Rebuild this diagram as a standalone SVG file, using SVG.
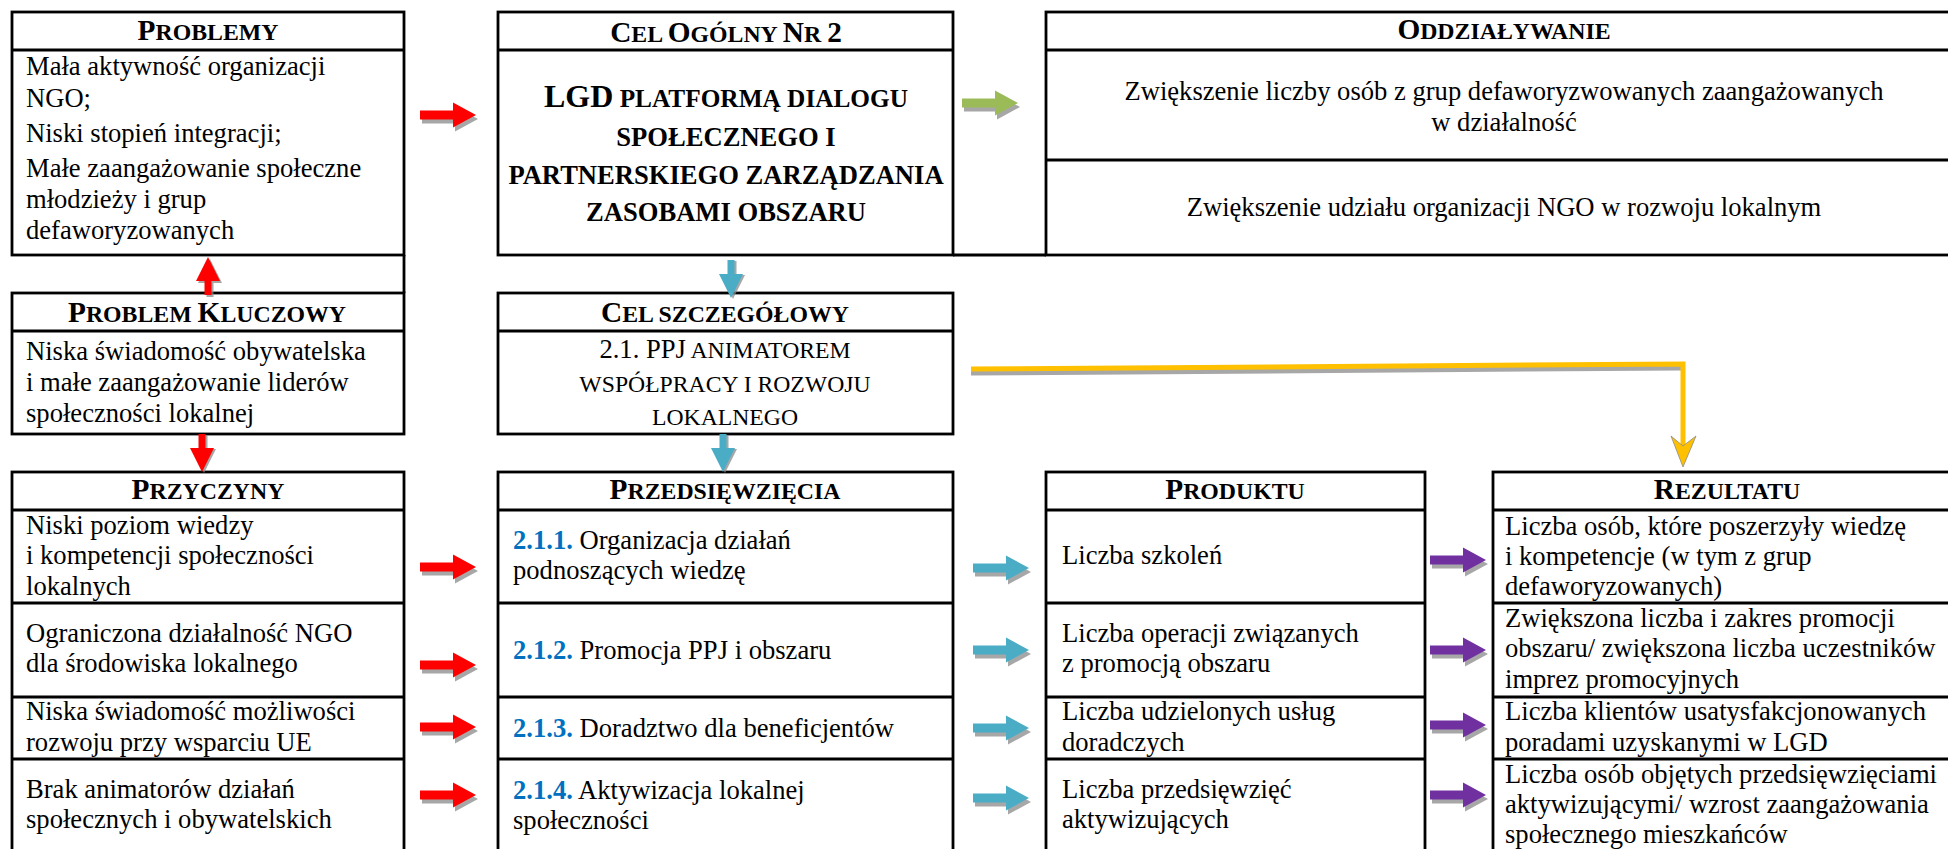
<svg xmlns="http://www.w3.org/2000/svg" width="1948" height="849" viewBox="0 0 1948 849">
<defs>
<style>
.t{font-family:"Liberation Serif","Times New Roman",serif;font-size:26.6px;fill:#000}
.c{text-anchor:middle}
.h{font-weight:bold;font-size:29.3px}
.s{font-size:23.8px}
.n{fill:#0070C0;font-weight:bold}
.bd{font-weight:bold}
.b{fill:#fff;stroke:#000;stroke-width:2.8}
.ln{stroke:#000;stroke-width:2.8;fill:none}
.sh{fill:#8a8a8a;opacity:0.75}
</style>
<path id="ha" d="M0,-4.5 H33 V-12.5 L56,0 L33,12.5 V4.5 H0 Z"/>
<path id="da" d="M-3.5,0 V14 H-12 L0,38 L12,14 H3.5 V0 Z"/>
</defs>
<rect width="1948" height="849" fill="#fff"/>

<g id="problemy">
<rect class="b" x="12" y="12" width="392" height="243"/>
<line class="ln" x1="12" y1="50" x2="404" y2="50"/>
<line class="ln" x1="404" y1="255" x2="404" y2="293"/>
<text class="t h c" x="208" y="40">P<tspan class="s">ROBLEMY</tspan></text>
<text class="t" x="26" y="75">Mała aktywność organizacji</text>
<text class="t" x="26" y="107">NGO;</text>
<text class="t" x="26" y="142">Niski stopień integracji;</text>
<text class="t" x="26" y="177">Małe zaangażowanie społeczne</text>
<text class="t" x="26" y="208">młodzieży i grup</text>
<text class="t" x="26" y="239">defaworyzowanych</text>
</g>

<g id="problem-kluczowy">
<rect class="b" x="12" y="293" width="392" height="141"/>
<line class="ln" x1="12" y1="331" x2="404" y2="331"/>
<text class="t h c" x="207" y="322">P<tspan class="s">ROBLEM </tspan>K<tspan class="s">LUCZOWY</tspan></text>
<text class="t" x="26" y="360">Niska świadomość obywatelska</text>
<text class="t" x="26" y="391">i małe zaangażowanie liderów</text>
<text class="t" x="26" y="422">społeczności lokalnej</text>
</g>

<g id="przyczyny">
<rect class="b" x="12" y="472" width="392" height="400"/>
<line class="ln" x1="12" y1="510" x2="404" y2="510"/>
<line class="ln" x1="12" y1="603" x2="404" y2="603"/>
<line class="ln" x1="12" y1="697" x2="404" y2="697"/>
<line class="ln" x1="12" y1="759" x2="404" y2="759"/>
<text class="t h c" x="208" y="499">P<tspan class="s">RZYCZYNY</tspan></text>
<text class="t" x="26" y="534">Niski poziom wiedzy</text>
<text class="t" x="26" y="564">i kompetencji społeczności</text>
<text class="t" x="26" y="595">lokalnych</text>
<text class="t" x="26" y="642">Ograniczona działalność NGO</text>
<text class="t" x="26" y="672">dla środowiska lokalnego</text>
<text class="t" x="26" y="720">Niska świadomość możliwości</text>
<text class="t" x="26" y="751">rozwoju przy wsparciu UE</text>
<text class="t" x="26" y="798">Brak animatorów działań</text>
<text class="t" x="26" y="828">społecznych i obywatelskich</text>
</g>

<g id="cel-ogolny">
<rect class="b" x="498" y="12" width="455" height="243"/>
<line class="ln" x1="498" y1="50" x2="953" y2="50"/>
<line class="ln" x1="953" y1="255" x2="1046" y2="255"/>
<text class="t h c" x="726" y="42">C<tspan class="s">EL </tspan>O<tspan class="s">GÓLNY </tspan>N<tspan class="s">R </tspan>2</text>
<text class="t c bd" x="726" y="107"><tspan font-size="32px">LGD</tspan><tspan font-size="25.3px"> PLATFORMĄ DIALOGU</tspan></text>
<text class="t c bd" x="726" y="146">SPOŁECZNEGO I</text>
<text class="t c bd" x="726" y="184">PARTNERSKIEGO ZARZĄDZANIA</text>
<text class="t c bd" x="726" y="221">ZASOBAMI OBSZARU</text>
</g>

<g id="cel-szczegolowy">
<rect class="b" x="498" y="293" width="455" height="141"/>
<line class="ln" x1="498" y1="331" x2="953" y2="331"/>
<text class="t h c" x="725" y="322">C<tspan class="s">EL SZCZEGÓŁOWY</tspan></text>
<text class="t c" x="725" y="358">2.1. PPJ<tspan font-size="23.7px"> ANIMATOREM</tspan></text>
<text class="t c" x="725" y="392" style="font-size:23.7px">WSPÓŁPRACY I ROZWOJU</text>
<text class="t c" x="725" y="425" style="font-size:23.7px">LOKALNEGO</text>
</g>

<g id="przedsiewziecia">
<rect class="b" x="498" y="472" width="455" height="400"/>
<line class="ln" x1="498" y1="510" x2="953" y2="510"/>
<line class="ln" x1="498" y1="603" x2="953" y2="603"/>
<line class="ln" x1="498" y1="697" x2="953" y2="697"/>
<line class="ln" x1="498" y1="759" x2="953" y2="759"/>
<text class="t h c" x="725" y="499">P<tspan class="s">RZEDSIĘWZIĘCIA</tspan></text>
<text class="t" x="513" y="549"><tspan class="n">2.1.1.</tspan> Organizacja działań</text>
<text class="t" x="513" y="579">podnoszących wiedzę</text>
<text class="t" x="513" y="659"><tspan class="n">2.1.2.</tspan> Promocja PPJ i obszaru</text>
<text class="t" x="513" y="737"><tspan class="n">2.1.3.</tspan> Doradztwo dla beneficjentów</text>
<text class="t" x="513" y="799"><tspan class="n">2.1.4.</tspan> Aktywizacja lokalnej</text>
<text class="t" x="513" y="829">społeczności</text>
</g>

<g id="oddzialywanie">
<rect class="b" x="1046" y="12" width="920" height="243"/>
<line class="ln" x1="1046" y1="50" x2="1966" y2="50"/>
<line class="ln" x1="1046" y1="160" x2="1966" y2="160"/>
<text class="t h c" x="1504" y="39">O<tspan class="s">DDZIAŁYWANIE</tspan></text>
<text class="t c" x="1504" y="100">Zwiększenie liczby osób z grup defaworyzwowanych zaangażowanych</text>
<text class="t c" x="1504" y="131">w działalność</text>
<text class="t c" x="1504" y="216">Zwiększenie udziału organizacji NGO w rozwoju lokalnym</text>
</g>

<g id="produktu">
<rect class="b" x="1046" y="472" width="379" height="400"/>
<line class="ln" x1="1046" y1="510" x2="1425" y2="510"/>
<line class="ln" x1="1046" y1="603" x2="1425" y2="603"/>
<line class="ln" x1="1046" y1="697" x2="1425" y2="697"/>
<line class="ln" x1="1046" y1="759" x2="1425" y2="759"/>
<text class="t h c" x="1235" y="499">P<tspan class="s">RODUKTU</tspan></text>
<text class="t" x="1062" y="564">Liczba szkoleń</text>
<text class="t" x="1062" y="642">Liczba operacji związanych</text>
<text class="t" x="1062" y="672">z promocją obszaru</text>
<text class="t" x="1062" y="720">Liczba udzielonych usług</text>
<text class="t" x="1062" y="751">doradczych</text>
<text class="t" x="1062" y="798">Liczba przedsięwzięć</text>
<text class="t" x="1062" y="828">aktywizujących</text>
</g>

<g id="rezultatu">
<rect class="b" x="1493" y="472" width="473" height="400"/>
<line class="ln" x1="1493" y1="510" x2="1966" y2="510"/>
<line class="ln" x1="1493" y1="603" x2="1966" y2="603"/>
<line class="ln" x1="1493" y1="697" x2="1966" y2="697"/>
<line class="ln" x1="1493" y1="759" x2="1966" y2="759"/>
<text class="t h c" x="1727" y="499">R<tspan class="s">EZULTATU</tspan></text>
<text class="t" x="1505" y="535">Liczba osób, które poszerzyły wiedzę</text>
<text class="t" x="1505" y="565">i kompetencje (w tym z grup</text>
<text class="t" x="1505" y="595">defaworyzowanych)</text>
<text class="t" x="1505" y="627">Zwiększona liczba i zakres promocji</text>
<text class="t" x="1505" y="657">obszaru/ zwiększona liczba uczestników</text>
<text class="t" x="1505" y="688">imprez promocyjnych</text>
<text class="t" x="1505" y="720">Liczba klientów usatysfakcjonowanych</text>
<text class="t" x="1505" y="751">poradami uzyskanymi w LGD</text>
<text class="t" x="1505" y="783">Liczba osób objętych przedsięwzięciami</text>
<text class="t" x="1505" y="813">aktywizującymi/ wzrost zaangażowania</text>
<text class="t" x="1505" y="843">społecznego mieszkańców</text>
</g>

<g id="connectors">
<g transform="translate(420,115)"><use href="#ha" class="sh" x="2" y="4"/><use href="#ha" fill="#FF0000"/></g>
<g transform="translate(420,567)"><use href="#ha" class="sh" x="2" y="4"/><use href="#ha" fill="#FF0000"/></g>
<g transform="translate(420,665)"><use href="#ha" class="sh" x="2" y="4"/><use href="#ha" fill="#FF0000"/></g>
<g transform="translate(420,727)"><use href="#ha" class="sh" x="2" y="4"/><use href="#ha" fill="#FF0000"/></g>
<g transform="translate(420,795)"><use href="#ha" class="sh" x="2" y="4"/><use href="#ha" fill="#FF0000"/></g>
<g transform="translate(208,295) rotate(180)"><use href="#da" class="sh" x="-2" y="-2"/><use href="#da" fill="#FF0000"/></g>
<g transform="translate(202,434)"><use href="#da" class="sh" x="2" y="1"/><use href="#da" fill="#FF0000"/></g>
<g transform="translate(962,103)"><use href="#ha" class="sh" x="2" y="4"/><use href="#ha" fill="#9BBB59"/></g>
<g transform="translate(731,260)"><use href="#da" class="sh" x="2" y="1"/><use href="#da" fill="#4BACC6"/></g>
<g transform="translate(723,434)"><use href="#da" class="sh" x="2" y="1"/><use href="#da" fill="#4BACC6"/></g>
<g transform="translate(973,568)"><use href="#ha" class="sh" x="2" y="4"/><use href="#ha" fill="#4BACC6"/></g>
<g transform="translate(973,650)"><use href="#ha" class="sh" x="2" y="4"/><use href="#ha" fill="#4BACC6"/></g>
<g transform="translate(973,728)"><use href="#ha" class="sh" x="2" y="4"/><use href="#ha" fill="#4BACC6"/></g>
<g transform="translate(973,798)"><use href="#ha" class="sh" x="2" y="4"/><use href="#ha" fill="#4BACC6"/></g>
<g transform="translate(1430,560)"><use href="#ha" class="sh" x="2" y="4"/><use href="#ha" fill="#7030A0"/></g>
<g transform="translate(1430,650)"><use href="#ha" class="sh" x="2" y="4"/><use href="#ha" fill="#7030A0"/></g>
<g transform="translate(1430,725)"><use href="#ha" class="sh" x="2" y="4"/><use href="#ha" fill="#7030A0"/></g>
<g transform="translate(1430,795)"><use href="#ha" class="sh" x="2" y="4"/><use href="#ha" fill="#7030A0"/></g>
<polyline points="971,373 1683,368" fill="none" stroke="#8a8a8a" stroke-width="5" opacity="0.75"/>
<polyline points="971,369 1683,364 1683,446" fill="none" stroke="#FFC000" stroke-width="5"/>
<path d="M1671,436 L1683,467 L1696,436 L1683,446 Z" fill="#FFC000" stroke="#8a8a8a" stroke-width="0.8"/>
</g>
</svg>
